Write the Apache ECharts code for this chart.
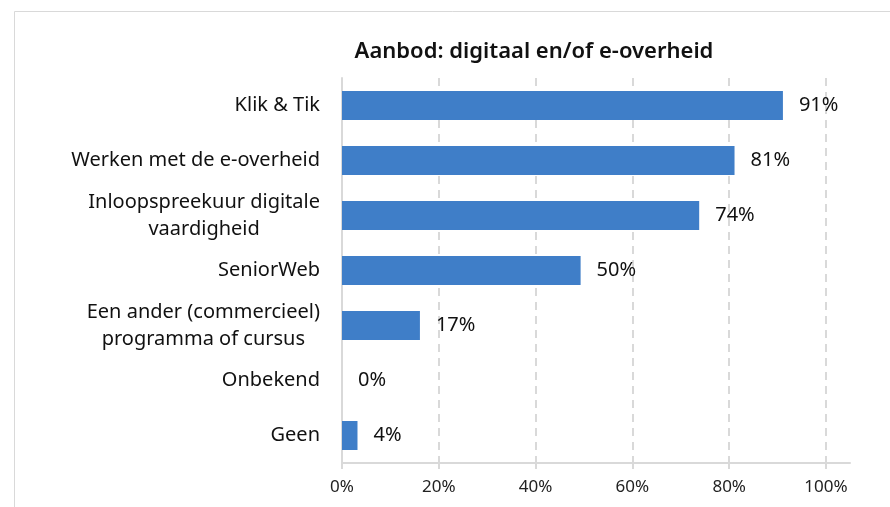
<!DOCTYPE html>
<html>
<head>
<meta charset="utf-8">
<script src="https://cdn.jsdelivr.net/npm/echarts@6/dist/echarts.min.js"></script>
<style>html,body{margin:0;padding:0;background:#fff}#c{width:890px;height:507px}</style>
</head>
<body>
<div id="c"></div>
<script>
var categories = ["Klik & Tik", "Werken met de e-overheid", "Inloopspreekuur digitale\nvaardigheid", "SeniorWeb", "Een ander (commercieel)\nprogramma of cursus", "Onbekend", "Geen"];
var values = [91.1, 81.1, 73.8, 49.3, 16.1, 0, 3.2];
var valueLabels = ["91%", "81%", "74%", "50%", "17%", "0%", "4%"];
var tickValues = [0, 20, 40, 60, 80, 100];
var titleText = "Aanbod: digitaal en/of e-overheid";

var FONT = "Noto Sans";
var chart = echarts.init(document.getElementById('c'), null, {renderer: 'canvas'});
chart.setOption({
  animation: false,
  backgroundColor: '#fff',
  graphic: [{type: 'rect', shape: {x: 14.5, y: 11.5, width: 900, height: 520}, style: {fill: 'none', stroke: '#D9D9D9', lineWidth: 1}, silent: true, z: -1}],
  title: {text: titleText, left: 529, top: 36, textAlign: 'center',
    textStyle: {fontFamily: FONT, fontSize: 22, fontWeight: 600, color: '#111'}},
  grid: [
    {left: 342, right: 64, top: 78, bottom: 44, containLabel: false},
    {left: 342, right: 40, top: 78, bottom: 44, containLabel: false}
  ],
  xAxis: [{
    type: 'value', gridIndex: 0, min: 0, max: 100, interval: 20,
    axisLine: {show: false},
    axisTick: {show: true, length: 6, lineStyle: {color: '#D9D9D9', width: 2}},
    axisLabel: {formatter: function (v) { return tickValues.indexOf(v) >= 0 ? v + '%' : ''; }, fontFamily: FONT, fontSize: 17, color: '#222', margin: 16},
    splitLine: {show: true, lineStyle: {color: '#D9D9D9', type: [8, 6], width: 2}}
  }, {
    type: 'value', gridIndex: 1, min: 0, max: 105,
    axisLine: {show: true, lineStyle: {color: '#D9D9D9', width: 2}},
    axisTick: {show: false}, axisLabel: {show: false}, splitLine: {show: false}
  }],
  yAxis: [{
    type: 'category', gridIndex: 0, data: categories, inverse: true,
    axisLine: {show: true, lineStyle: {color: '#D9D9D9', width: 2}},
    axisTick: {show: false},
    axisLabel: {
      margin: 22, color: '#111', fontFamily: FONT, fontSize: 20, lineHeight: 27,
      formatter: function (v) { return v.split('\n').map(function (l) { return '{c|' + l + '}'; }).join('\n'); },
      rich: {c: {align: 'center', fontFamily: FONT, fontSize: 20, lineHeight: 27, color: '#111'}}
    }
  }, {
    type: 'category', gridIndex: 1, data: categories, show: false
  }],
  series: [{
    type: 'bar', xAxisIndex: 0, yAxisIndex: 0, data: values, barWidth: 29,
    itemStyle: {color: '#3F7EC8'},
    label: {show: true, position: 'right', distance: 16, fontFamily: FONT, fontSize: 20, color: '#111',
      formatter: function (p) { return valueLabels[p.dataIndex]; }}
  }]
});
</script>
</body>
</html>
